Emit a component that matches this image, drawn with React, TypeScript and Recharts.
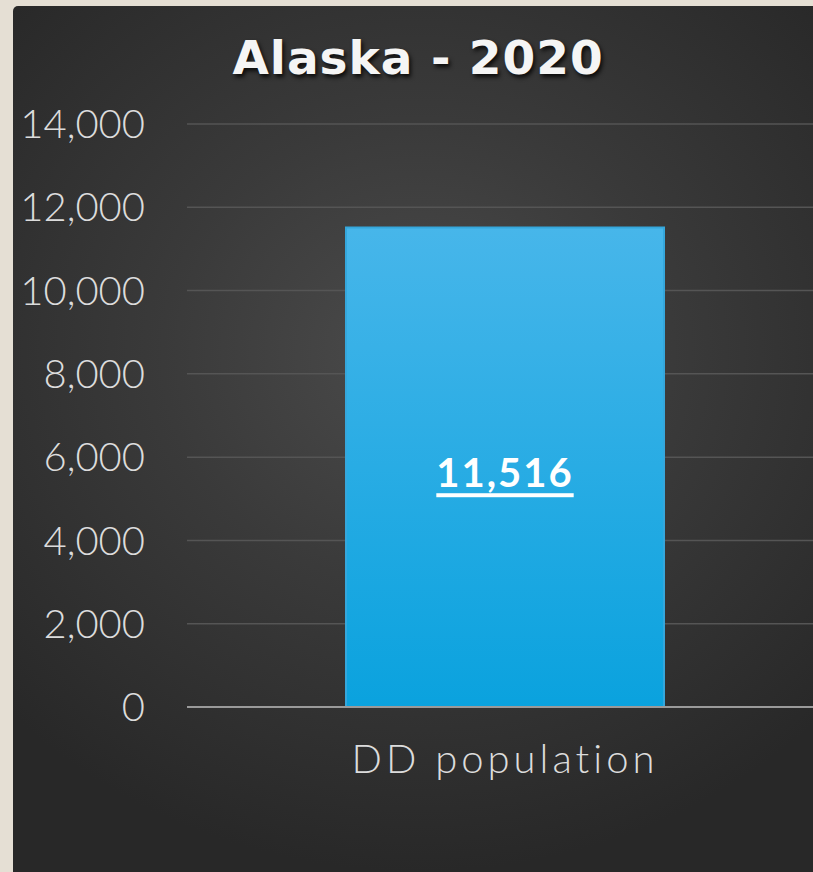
import { BarChart, Bar, XAxis, YAxis, CartesianGrid, LabelList } from "recharts";

const categories = ["DD population"];
const values = [11516];
const yTicks = [0, 2000, 4000, 6000, 8000, 10000, 12000, 14000];
const title = "Alaska - 2020";

const data = categories.map((name, i) => ({ name, value: values[i] }));

const fmt = (v: number) => v.toLocaleString("en-US");

function ValueLabel(props: any) {
  const { x, y, width, height, value } = props;
  const cx = x + width / 2;
  const cy = y + height / 2 + 5;
  return (
    <text
      x={cx}
      y={cy}
      textAnchor="middle"
      dominantBaseline="central"
      fill="#ffffff"
      fontFamily="Lato, sans-serif"
      fontWeight={700}
      fontSize={40}
      letterSpacing={2}
      style={{ textDecoration: "underline" }}
    >
      {fmt(value)}
    </text>
  );
}

export default function App() {
  return (
    <div
      style={{
        position: "absolute",
        left: 0,
        top: 0,
        width: 813,
        height: 872,
        background: "#e5dfd4",
        overflow: "hidden",
      }}
    >
      <div
        style={{
          position: "absolute",
          left: 13,
          top: 6,
          width: 810,
          height: 866,
          borderTopLeftRadius: 5,
          background:
            "radial-gradient(ellipse 70% 60% at 50% 40%, #4b4b4b 0%, #3a3a3a 45%, #282828 100%)",
        }}
      >
        <div
          style={{
            position: "absolute",
            left: 0,
            top: 28,
            width: 810,
            textAlign: "center",
            fontFamily: "'DejaVu Sans', sans-serif",
            fontWeight: 700,
            fontSize: 47,
            lineHeight: "48px",
            letterSpacing: 1,
            color: "#f5f5f5",
            textShadow: "2px 3px 4px rgba(0,0,0,0.8)",
          }}
        >
          {title}
        </div>
        <BarChart
          width={810}
          height={866}
          data={data}
          margin={{ top: 118, right: 0, left: 0, bottom: 105 }}
          barCategoryGap="25%"
        >
          <defs>
            <linearGradient id="barFill" x1="0" y1="0" x2="0" y2="1">
              <stop offset="0%" stopColor="#47b6ea" />
              <stop offset="100%" stopColor="#0aa2de" />
            </linearGradient>
          </defs>
          <CartesianGrid vertical={false} stroke="#555555" strokeWidth={1.5} />
          <XAxis
            dataKey="name"
            height={60}
            tickSize={0}
            tickMargin={38}
            axisLine={{ stroke: "#9a9a9a", strokeWidth: 2 }}
            tick={{ fill: "#dcdcdc", fontSize: 40, fontFamily: "Lato, sans-serif", fontWeight: 300, letterSpacing: 4 }}
          />
          <YAxis
            width={174}
            domain={[0, 14000]}
            ticks={yTicks}
            interval={0}
            tickSize={0}
            tickMargin={42}
            axisLine={false}
            tickFormatter={fmt}
            tick={{ fill: "#dcdcdc", fontSize: 40, fontFamily: "Lato, sans-serif", fontWeight: 300 }}
          />
          <Bar
            dataKey="value"
            fill="url(#barFill)"
            stroke="#35a7dc"
            strokeWidth={2}
            isAnimationActive={false}
          >
            <LabelList dataKey="value" content={ValueLabel} />
          </Bar>
        </BarChart>
      </div>
    </div>
  );
}
